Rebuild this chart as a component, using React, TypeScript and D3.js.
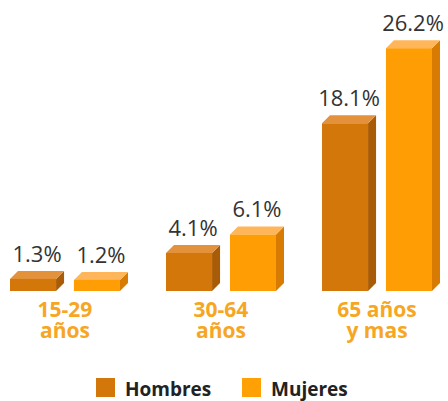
import React from "react";
import * as d3 from "d3";

const groups = ["15-29|años", "30-64|años", "65 años|y mas"];
const series = ["Hombres", "Mujeres"];
const hombres = [1.3, 4.1, 18.1];
const mujeres = [1.2, 6.1, 26.2];
const valueLabels = [["1.3%", "1.2%"], ["4.1%", "6.1%"], ["18.1%", "26.2%"]];

const W = 448, H = 401;
const colors: Record<string, { front: string; top: string; side: string }> = {
  Hombres: { front: "#D4770B", top: "#E3913A", side: "#A95C07" },
  Mujeres: { front: "#FF9D05", top: "#FFB65A", side: "#D77B02" },
};

export default function App() {
  const x0 = d3.scaleBand<string>().domain(groups).range([10, 432]).paddingInner(0.295).paddingOuter(0);
  const x1 = d3.scaleBand<string>().domain(series).range([0, x0.bandwidth()]).paddingInner(0.28).paddingOuter(0);
  const y = d3.scaleLinear().domain([0, 30]).range([291, 13]);
  const dx = 8, dy = 8;
  const bw = x1.bandwidth();

  const bars: React.ReactNode[] = [];
  groups.forEach((g, gi) => {
    series.forEach((s, si) => {
      const v = si === 0 ? hombres[gi] : mujeres[gi];
      const x = (x0(g) ?? 0) + (x1(s) ?? 0);
      const yt = y(v);
      const yb = y(0);
      const c = colors[s];
      bars.push(
        <g key={g + s}>
          <polygon points={`${x + bw},${yt} ${x + bw + dx},${yt - dy} ${x + bw + dx},${yb - dy} ${x + bw},${yb}`} fill={c.side} />
          <polygon points={`${x},${yt} ${x + dx},${yt - dy} ${x + bw + dx},${yt - dy} ${x + bw},${yt}`} fill={c.top} />
          <rect x={x} y={yt} width={bw} height={yb - yt} fill={c.front} />
          <text x={x + (bw + dx) / 2} y={yt - dy - 9} textAnchor="middle" fontFamily="'Open Sans', sans-serif" fontSize={22} fill="#333">
            {valueLabels[gi][si]}
          </text>
        </g>
      );
    });
  });

  return (
    <svg width={W} height={H} style={{ position: "absolute", left: 0, top: 0, background: "#fff" }}>
      {bars}
      {groups.map((g) => {
        const cx = (x0(g) ?? 0) + x0.bandwidth() / 2;
        const [l1, l2] = g.split("|");
        return (
          <text key={g} textAnchor="middle" fontFamily="'Open Sans', sans-serif" fontWeight="bold" fontSize={21} fill="#F6A623">
            <tspan x={cx} y={317}>{l1}</tspan>
            <tspan x={cx} y={338}>{l2}</tspan>
          </text>
        );
      })}
      {series.map((s, i) => {
        const lx = 96 + i * 146;
        return (
          <g key={s}>
            <rect x={lx} y={378} width={19} height={19} fill={i === 0 ? "#D4770B" : "#FFA005"} />
            <text x={lx + 29} y={396} fontFamily="'Open Sans', sans-serif" fontWeight="bold" fontSize={19} fill="#222">{s}</text>
          </g>
        );
      })}
    </svg>
  );
}
